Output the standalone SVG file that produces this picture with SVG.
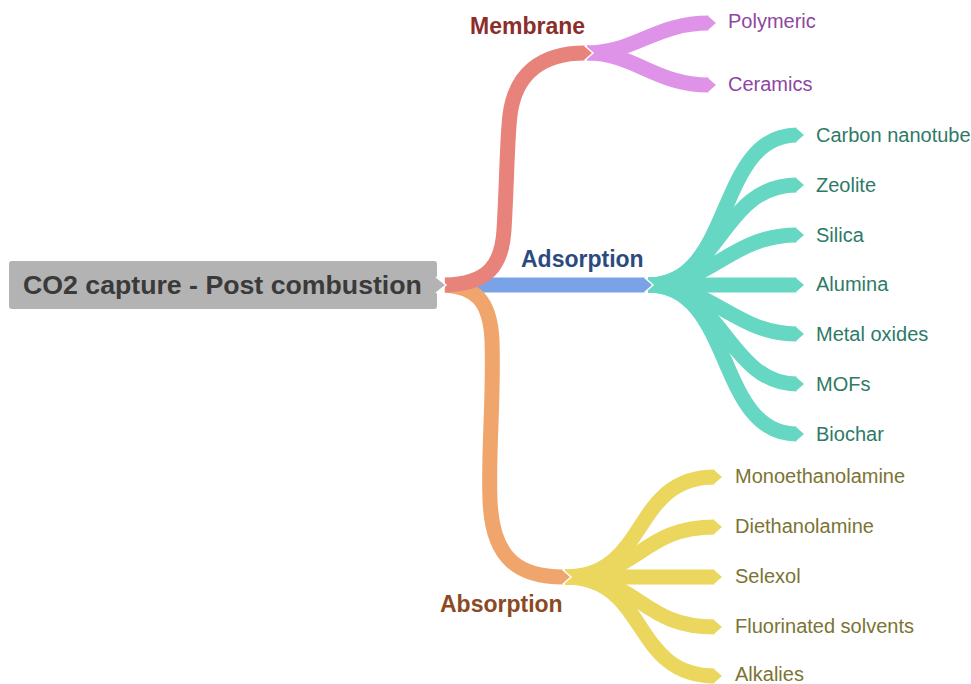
<svg xmlns="http://www.w3.org/2000/svg" width="971" height="684" viewBox="0 0 971 684">
<style>
.br{fill:none;stroke-width:15;stroke-linecap:butt}
.lbl{font-family:"Liberation Sans",Arial,sans-serif;font-size:20px}
.hd{font-family:"Liberation Sans",Arial,sans-serif;font-size:23px;font-weight:bold}
.pu{fill:#8f45a3}.te{fill:#2e7a68}.ol{fill:#7b7433}
</style>
<defs>
<marker id="tR" markerUnits="userSpaceOnUse" orient="auto" refX="0" refY="0" markerWidth="20" markerHeight="20" viewBox="-2 -10 20 20" overflow="visible"><path d="M-0.5,-7.5 L8,0 L-0.5,7.5" fill="#e8837b" stroke="#fff" stroke-width="1.5"/></marker>
<marker id="tP" markerUnits="userSpaceOnUse" orient="auto" refX="0" refY="0" markerWidth="20" markerHeight="20" viewBox="-2 -10 20 20" overflow="visible"><path d="M-0.5,-7.5 L8,0 L-0.5,7.5" fill="#df93e8" stroke="#fff" stroke-width="1.5"/></marker>
<marker id="tB" markerUnits="userSpaceOnUse" orient="auto" refX="0" refY="0" markerWidth="20" markerHeight="20" viewBox="-2 -10 20 20" overflow="visible"><path d="M-0.5,-7.5 L8,0 L-0.5,7.5" fill="#79a3e6" stroke="#fff" stroke-width="1.5"/></marker>
<marker id="tT" markerUnits="userSpaceOnUse" orient="auto" refX="0" refY="0" markerWidth="20" markerHeight="20" viewBox="-2 -10 20 20" overflow="visible"><path d="M-0.5,-7.5 L8,0 L-0.5,7.5" fill="#66d7c2" stroke="#fff" stroke-width="1.5"/></marker>
<marker id="tO" markerUnits="userSpaceOnUse" orient="auto" refX="0" refY="0" markerWidth="20" markerHeight="20" viewBox="-2 -10 20 20" overflow="visible"><path d="M-0.5,-7.5 L8,0 L-0.5,7.5" fill="#f0a56c" stroke="#fff" stroke-width="1.5"/></marker>
<marker id="tY" markerUnits="userSpaceOnUse" orient="auto" refX="0" refY="0" markerWidth="20" markerHeight="20" viewBox="-2 -10 20 20" overflow="visible"><path d="M-0.5,-7.5 L8,0 L-0.5,7.5" fill="#ebd65e" stroke="#fff" stroke-width="1.5"/></marker>
</defs>
<rect width="971" height="684" fill="#fff"/>
<g id="connectors">
<g>
<path class="br" stroke="#df93e8" marker-end="url(#tP)" d="M587,53 C635,53 655,23 709,23"/>
<path class="br" stroke="#df93e8" marker-end="url(#tP)" d="M587,53 C635,53 655,85 709,85"/>
</g>
<g>
<path class="br" stroke="#66d7c2" marker-end="url(#tT)" d="M648,285 C735,285 715,135 797,135"/>
<path class="br" stroke="#66d7c2" marker-end="url(#tT)" d="M648,285 C720,285 720,185 797,185"/>
<path class="br" stroke="#66d7c2" marker-end="url(#tT)" d="M648,285 C712,285 730,235 797,235"/>
<path class="br" stroke="#66d7c2" marker-end="url(#tT)" d="M648,285 L797,285"/>
<path class="br" stroke="#66d7c2" marker-end="url(#tT)" d="M648,285 C712,285 735,334 797,334"/>
<path class="br" stroke="#66d7c2" marker-end="url(#tT)" d="M648,285 C722,285 728,384 797,384"/>
<path class="br" stroke="#66d7c2" marker-end="url(#tT)" d="M648,285 C735,285 715,434 797,434"/>
</g>
<g>
<path class="br" stroke="#ebd65e" marker-end="url(#tY)" d="M565,577 C650,577 630,477 715,477"/>
<path class="br" stroke="#ebd65e" marker-end="url(#tY)" d="M565,577 C640,577 640,527 715,527"/>
<path class="br" stroke="#ebd65e" marker-end="url(#tY)" d="M565,577 L715,577"/>
<path class="br" stroke="#ebd65e" marker-end="url(#tY)" d="M565,577 C640,577 640,627 715,627"/>
<path class="br" stroke="#ebd65e" marker-end="url(#tY)" d="M565,577 C650,577 630,676 715,676"/>
</g>
<path class="br" stroke="#79a3e6" stroke-width="14" marker-end="url(#tB)" d="M470,285 L645,285"/>
<path class="br" stroke="#f0a56c" marker-end="url(#tO)" d="M445,285 C475,287 490,300 492,340 C494,400 488,450 490,500 C492,560 520,577 563,577"/>
<path class="br" stroke="#e8837b" stroke-width="16" marker-end="url(#tR)" d="M445,285 C488,284 502,265 504,230 C507,180 507,140 510,115 C515,75 540,53 585,53"/>
</g>
<g id="root">
<rect x="9" y="261" width="428" height="48" rx="3" fill="#b3b3b3"/>
<path d="M436,277 L446,285 L436,293" fill="#b3b3b3" stroke="#fff" stroke-width="1.5"/>
<text x="23" y="294" font-family="Liberation Sans, Arial, sans-serif" font-size="26.7" font-weight="bold" fill="#3a3a3a">CO2 capture - Post combustion</text>
</g>
<g id="membrane"><text class="hd" x="470" y="34" fill="#8b2e2b">Membrane</text></g>
<g id="adsorption"><text class="hd" x="521" y="267" fill="#2b4b80">Adsorption</text></g>
<g id="absorption"><text class="hd" x="440" y="612" fill="#8b4a23">Absorption</text></g>
<g id="polymeric"><text class="lbl pu" x="728" y="28">Polymeric</text></g>
<g id="ceramics"><text class="lbl pu" x="728" y="91">Ceramics</text></g>
<g id="carbon-nanotube"><text class="lbl te" x="816" y="142">Carbon nanotube</text></g>
<g id="zeolite"><text class="lbl te" x="816" y="192">Zeolite</text></g>
<g id="silica"><text class="lbl te" x="816" y="242">Silica</text></g>
<g id="alumina"><text class="lbl te" x="816" y="291">Alumina</text></g>
<g id="metal-oxides"><text class="lbl te" x="816" y="341">Metal oxides</text></g>
<g id="mofs"><text class="lbl te" x="816" y="391">MOFs</text></g>
<g id="biochar"><text class="lbl te" x="816" y="441">Biochar</text></g>
<g id="monoethanolamine"><text class="lbl ol" x="735" y="483">Monoethanolamine</text></g>
<g id="diethanolamine"><text class="lbl ol" x="735" y="533">Diethanolamine</text></g>
<g id="selexol"><text class="lbl ol" x="735" y="583">Selexol</text></g>
<g id="fluorinated-solvents"><text class="lbl ol" x="735" y="633">Fluorinated solvents</text></g>
<g id="alkalies"><text class="lbl ol" x="735" y="681">Alkalies</text></g>
</svg>
